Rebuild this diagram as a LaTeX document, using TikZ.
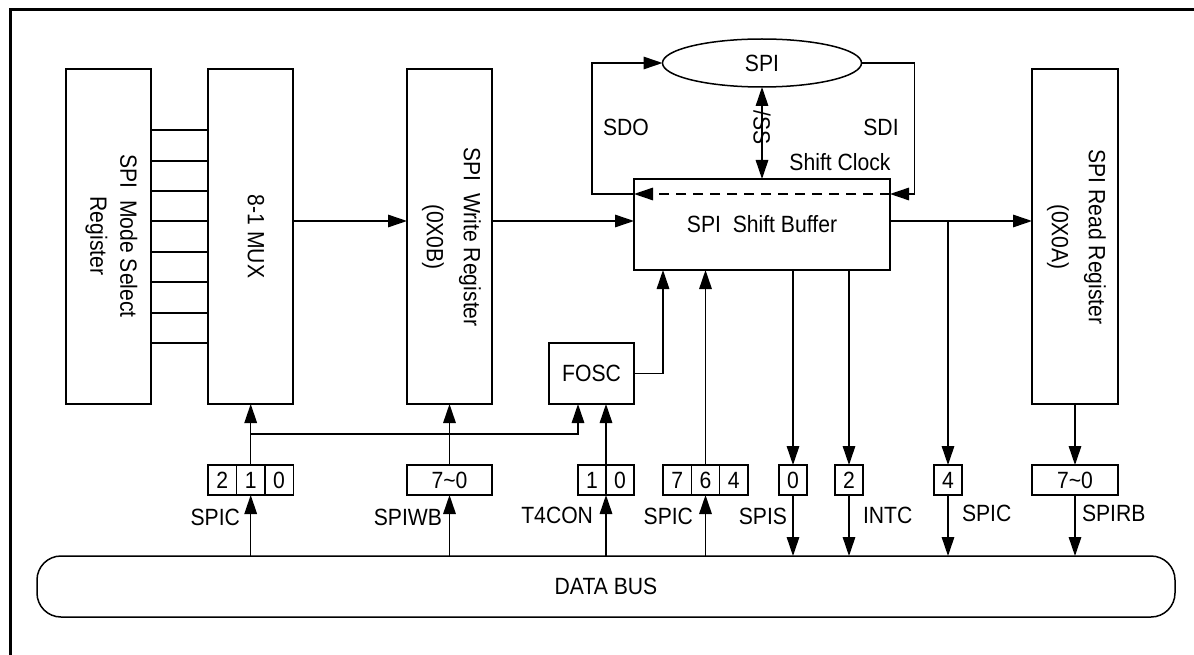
\documentclass[tikz,border=0pt]{standalone}
\usepackage{fontspec}
\setmainfont{Liberation Sans}[FakeStretch=0.9]
\usetikzlibrary{arrows.meta,shapes.geometric}
\newcommand{\dfont}{\fontsize{23.5pt}{27pt}\selectfont}
\begin{document}
\begin{tikzpicture}[x=1pt,y=-1pt,
  every node/.style={font=\dfont, inner sep=0pt, outer sep=0pt},
  ln/.style={line width=1.5pt},
  arr/.style={ln, -{Triangle[length=19pt,width=12.5pt]}},
  dbl/.style={ln, {Triangle[length=19pt,width=12.5pt]}-{Triangle[length=19pt,width=12.5pt]}},
  block/.style={draw, ln, minimum width=85pt, minimum height=335pt},
  cell/.style={draw, ln, minimum width=28.4pt, minimum height=30pt},
]
\useasboundingbox (0,0) rectangle (1194,655);
\draw[line width=3pt] (10.5,9.5) rectangle (1260,720);

% main blocks
\node[block] (mode) at (108.5,236.5) {};
\node[rotate=-90, align=center, font=\fontsize{23.5pt}{30pt}\selectfont] at (111.5,236) {SPI~~Mode Select\\Register};
\node[block] (mux) at (250.5,236.5) {};
\node[rotate=-90] at (256,236.5) {8-1 MUX};
\node[block] (wr) at (449.5,236.5) {};
\node[rotate=-90, align=center, font=\fontsize{23.5pt}{37pt}\selectfont] at (451.5,237) {SPI~~Write Register\\(0X0B)};
\node[block, minimum width=86pt] (rr) at (1075,236.5) {};
\node[rotate=-90, align=center, font=\fontsize{23.5pt}{37pt}\selectfont] at (1076.5,237) {SPI Read Register\\(0X0A)};
\node[draw, ln, minimum width=256pt, minimum height=91pt] (sb) at (762,224.5) {SPI~~Shift Buffer};
\node[draw, ln, ellipse, minimum width=199pt, minimum height=48pt] (spi) at (762,63) {SPI};
\node[draw, ln, minimum width=85pt, minimum height=61pt] (fosc) at (591.5,373.5) {FOSC};
\node[draw, ln, rounded corners=24pt, minimum width=1138pt, minimum height=61pt] (bus) at (606,586.5) {DATA BUS};

% bit cells
\node[cell] (s2) at (222.3,480) {2};
\node[cell] (s1) at (250.7,480) {1};
\node[cell] (s0) at (279.1,480) {0};
\node[cell, minimum width=85pt] (wb) at (449.5,480) {7\textasciitilde0};
\node[cell, minimum width=28pt] (t1) at (592,480) {1};
\node[cell, minimum width=28pt] (t0) at (620,480) {0};
\node[cell] (p7) at (677.2,480) {7};
\node[cell] (p6) at (705.5,480) {6};
\node[cell] (p4) at (733.8,480) {4};
\node[cell, minimum width=28pt] (ps) at (793,480) {0};
\node[cell, minimum width=28pt] (pi) at (849,480) {2};
\node[cell, minimum width=28pt] (pc) at (948,480) {4};
\node[cell, minimum width=86pt] (rb) at (1075,480) {7\textasciitilde0};

% labels
\node[anchor=base east] at (240,525) {SPIC};
\node[anchor=base east] at (442,525) {SPIWB};
\node[anchor=base east] at (593,523) {T4CON};
\node[anchor=base east] at (693,524) {SPIC};
\node[anchor=base east] at (787,524) {SPIS};
\node[anchor=base west] at (863,523) {INTC};
\node[anchor=base west] at (962,521) {SPIC};
\node[anchor=base west] at (1082,521) {SPIRB};
\node[anchor=base] at (626,136) {SDO};
\node[anchor=base] at (881,136) {SDI};
\node[anchor=base] at (840,171) {Shift Clock};
\node[rotate=-90] at (762,128) {/SS};

% mode select -> mux lines
\foreach \yy in {130,161,191,221,252,282,313,343}
  \draw[ln] (mode.east |- 0,\yy) -- (mux.west |- 0,\yy);

% main data path
\draw[arr] (mux.east |- 0,221) -- (wr.west |- 0,221);
\draw[arr] (wr.east |- 0,221) -- (sb.west |- 0,221);
\draw[arr] (sb.east |- 0,221) -- (rr.west |- 0,221);
\draw[arr] (pc.north |- 0,221) -- (pc.north);

% SPI loop
\draw[arr] (sb.west |- 0,194) -- ++(-42,0) |- (spi.west);
\draw[arr] (spi.east) -- ++(53,0) |- (sb.east |- 0,194);
\draw[arr, dash pattern=on 10pt off 7pt] (sb.east |- 0,194) -- (sb.west |- 0,194);
\draw[dbl] (spi.south) -- (sb.north);

% SPIC 2..0
\draw[arr] (s1.north) -- (mux.south -| s1.north);
\draw[arr] (bus.north -| s1.south) -- (s1.south);
\draw[arr] (s1.north |- 0,434) -| (fosc.south -| t1.west);
% SPIWB
\draw[arr] (wb.north) -- (wr.south);
\draw[arr] (bus.north -| wb.south) -- (wb.south);
% T4CON
\draw[arr] (t1.north east) -- (fosc.south -| t1.north east);
\draw[arr] (bus.north -| t1.south east) -- (t1.south east);
% FOSC -> shift buffer
\draw[arr] (fosc.east) -| (sb.south -| 663,0);
% SPIC 7,6,4
\draw[arr] (p6.north) -- (sb.south -| p6.north);
\draw[arr] (bus.north -| p6.south) -- (p6.south);
% SPIS
\draw[arr] (sb.south -| ps.north) -- (ps.north);
\draw[arr] (ps.south) -- (bus.north -| ps.south);
% INTC
\draw[arr] (sb.south -| pi.north) -- (pi.north);
\draw[arr] (pi.south) -- (bus.north -| pi.south);
% SPIC 4
\draw[arr] (pc.south) -- (bus.north -| pc.south);
% SPIRB
\draw[arr] (rr.south -| rb.north) -- (rb.north);
\draw[arr] (rb.south) -- (bus.north -| rb.south);
\end{tikzpicture}
\end{document}
